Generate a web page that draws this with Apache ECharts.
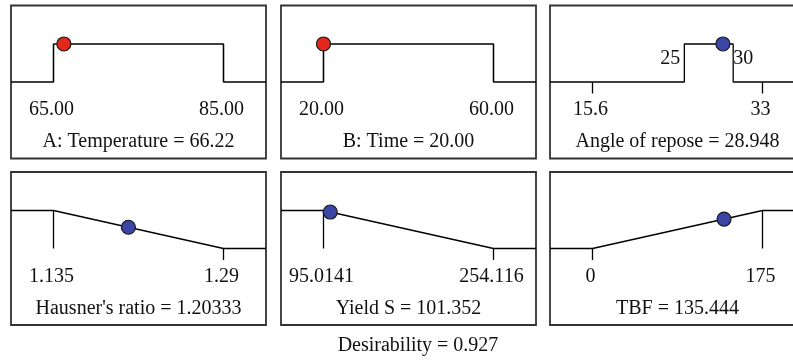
<!DOCTYPE html>
<html>
<head>
<meta charset="utf-8">
<script src="https://cdn.jsdelivr.net/npm/echarts@6/dist/echarts.min.js"></script>
<style>
  html, body { margin: 0; padding: 0; background: #fff; }
  #chart { width: 793px; height: 361px; }
</style>
</head>
<body>
<div id="chart"></div>
<script>
// desirability ramps, one panel per factor / response
const names = ["A: Temperature", "B: Time", "Angle of repose", "Hausner's ratio", "Yield S", "TBF"]
const values = [66.22, 20.0, 28.948, 1.20333, 101.352, 135.444]
const valueText = ["66.22", "20.00", "28.948", "1.20333", "101.352", "135.444"]
const lowLimits = [65, 20, 15.6, 1.135, 95.0141, 0]
const highLimits = [85, 60, 33, 1.29, 254.116, 175]
const lowLabels = ["65.00", "20.00", "15.6", "1.135", "95.0141", "0"]
const highLabels = ["85.00", "60.00", "33", "1.29", "254.116", "175"]
const goals = ["range", "range", "range", "minimize", "minimize", "maximize"]
const targetLow = [null, null, 25, null, null, null]
const targetHigh = [null, null, 30, null, null, null]
const isFactor = [true, true, false, false, false, false]
const desirabilityText = "Desirability = 0.927"

const FONT = '"Liberation Serif", "DejaVu Serif", serif'
const W = 793
const colLeft = [11, 281, 550]
const rowTop = [5.5, 172]
const boxW = 255
const boxH = 153
const pad = 42.5
const yHalf = 2.013 // y axis spans -yHalf..yHalf in desirability units

function dAt(i, x) {
  const lo = lowLimits[i], hi = highLimits[i]
  if (goals[i] === "range") {
    const a = targetLow[i] ?? lo, b = targetHigh[i] ?? hi
    return x >= a && x <= b ? 1 : 0
  }
  if (goals[i] === "minimize") {
    if (x <= lo) return 1
    if (x >= hi) return 0
    return (hi - x) / (hi - lo)
  }
  if (x <= lo) return 0
  if (x >= hi) return 1
  return (x - lo) / (hi - lo)
}

const grids = [], xAxes = [], yAxes = [], series = [], graphics = []
const lineStyle = { color: "#000", width: 1.3 }
const labelFont = { fontFamily: FONT, fontSize: 20, color: "#111" }

names.forEach((name, i) => {
  const left = colLeft[i % 3], top = rowTop[Math.floor(i / 3)]
  const lo = lowLimits[i], hi = highLimits[i]
  const span = hi - lo
  const pxPerUnit = (boxW - 2 * pad) / span
  // the right column runs off the page; echarts clamps the grid to the page
  const gridW = Math.min(boxW, W - left)
  const xMin = lo - pad / pxPerUnit
  const xMax = xMin + gridW / pxPerUnit

  // frame drawn as a graphic so it can run past the page edge
  graphics.push({
    type: "rect", z: -1,
    shape: { x: left, y: top, width: boxW, height: boxH },
    style: { fill: "#fff", stroke: "#333", lineWidth: 1.8 }
  })

  grids.push({ left: left, top: top, width: gridW, height: boxH, show: false })
  xAxes.push({ gridIndex: i, type: "value", min: xMin, max: xMax, show: false })
  yAxes.push({ gridIndex: i, type: "value", min: -yHalf, max: yHalf, show: false })

  // desirability curve
  let curve
  if (goals[i] === "range") {
    const a = targetLow[i] ?? lo, b = targetHigh[i] ?? hi
    curve = [[xMin, 0], [a, 0], [a, 1], [b, 1], [b, 0], [xMax, 0]]
  } else if (goals[i] === "minimize") {
    curve = [[xMin, 1], [lo, 1], [hi, 0], [xMax, 0]]
  } else {
    curve = [[xMin, 0], [lo, 0], [hi, 1], [xMax, 1]]
  }
  series.push({
    type: "line", xAxisIndex: i, yAxisIndex: i, data: curve,
    symbol: "none", lineStyle: lineStyle, silent: true, animation: false, z: 2
  })

  // limit ticks
  ;[lo, hi].forEach((x) => {
    const d = dAt(i, x)
    const seg = d >= 1 ? [[x, 1], [x, 0]] : [[x, 0], [x, -0.3]]
    series.push({
      type: "line", xAxisIndex: i, yAxisIndex: i, data: seg,
      symbol: "none", lineStyle: lineStyle, silent: true, animation: false, z: 2
    })
  })

  // limit labels
  series.push({
    type: "scatter", xAxisIndex: i, yAxisIndex: i, symbolSize: 0, silent: true, animation: false,
    itemStyle: { opacity: 1 },
    data: [
      { value: [lo, -0.737], name: lowLabels[i] },
      { value: [hi, -0.737], name: highLabels[i] }
    ],
    label: {
      show: true, position: "inside", offset: [-2, 0],
      formatter: (p) => p.name, ...labelFont
    }
  })

  // target range labels
  if (targetLow[i] != null) {
    series.push({
      type: "scatter", xAxisIndex: i, yAxisIndex: i, symbolSize: 0, silent: true, animation: false,
      itemStyle: { opacity: 1 },
      data: [
        { value: [targetLow[i], 0.62], name: String(targetLow[i]), label: { position: "left", distance: 4 } },
        { value: [targetHigh[i], 0.62], name: String(targetHigh[i]), label: { position: "right", distance: 0 } }
      ],
      label: { show: true, formatter: (p) => p.name, ...labelFont }
    })
  }

  // current setting
  series.push({
    type: "scatter", xAxisIndex: i, yAxisIndex: i, silent: true, animation: false, z: 5,
    symbol: "circle", symbolSize: 14,
    data: [[values[i], dAt(i, values[i])]],
    itemStyle: {
      color: isFactor[i] ? "#e2281c" : "#3b45a6",
      borderColor: "#1a1a1a", borderWidth: 1.2, opacity: 1
    }
  })

  graphics.push({
    type: "text", x: left + boxW / 2, y: top + 136.5,
    style: {
      text: name + " = " + valueText[i], align: "center", verticalAlign: "middle",
      font: "20px " + FONT, fill: "#111"
    }
  })
})

graphics.push({
  type: "text", x: 418, y: 345.5,
  style: {
    text: desirabilityText, align: "center", verticalAlign: "middle",
    font: "20px " + FONT, fill: "#111"
  }
})

const chart = echarts.init(document.getElementById("chart"))
chart.setOption({
  backgroundColor: "#fff",
  animation: false,
  grid: grids,
  xAxis: xAxes,
  yAxis: yAxes,
  series: series,
  graphic: graphics
})
</script>
</body>
</html>
